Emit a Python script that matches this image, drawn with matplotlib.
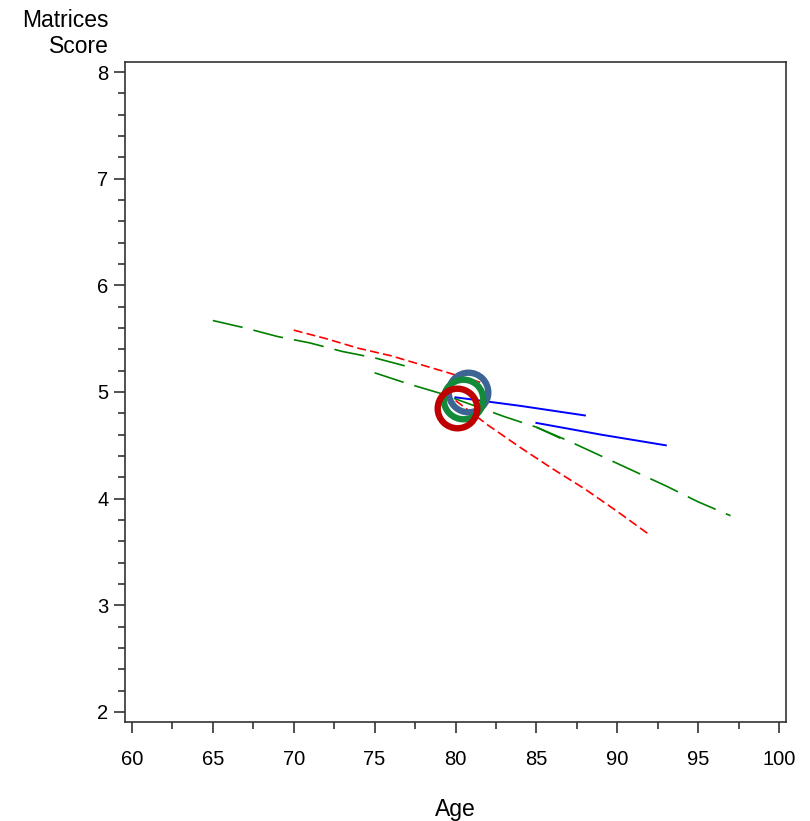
import numpy as np
import matplotlib.pyplot as plt

plt.rcParams['font.family'] = ['Liberation Sans', 'DejaVu Sans']
plt.rcParams['lines.scale_dashes'] = False

# Lignes (âge, score)
verde1_idade = [65, 67, 69, 71, 73, 75, 77]
verde1_score = [5.67, 5.60, 5.52, 5.46, 5.38, 5.32, 5.24]
verde2_idade = [75, 77, 79, 81, 83, 85, 87]
verde2_score = [5.18, 5.08, 4.99, 4.88, 4.77, 4.67, 4.53]
verde3_idade = [85, 87, 89, 91, 93, 95, 97]
verde3_score = [4.67, 4.54, 4.40, 4.26, 4.12, 3.97, 3.84]

verm1_idade = [70, 72, 74, 76, 78, 80, 82]
verm1_score = [5.58, 5.50, 5.41, 5.34, 5.25, 5.16, 5.07]
verm2_idade = [80, 82, 84, 86, 88, 90, 92]
verm2_score = [4.92, 4.69, 4.48, 4.28, 4.09, 3.88, 3.66]

azul1_idade = [80, 84, 88]
azul1_score = [4.95, 4.87, 4.78]
azul2_idade = [85, 89, 93]
azul2_score = [4.71, 4.60, 4.50]

# Círculos (médias)
circ_idade = [80.75, 80.45, 80.1]
circ_score = [5.00, 4.93, 4.85]
circ_cores = ['#3D6594', '#138A3A', '#BF0000']

fig = plt.figure(figsize=(8.10, 8.21), dpi=100)
ax = fig.add_axes([0.1543, 0.1206, 0.8161, 0.8039])

verde = (22, 8)
verm = (6.5, 3)
ax.plot(verde1_idade, verde1_score, color='#008000', lw=1.2, dashes=verde)
ax.plot(verde2_idade, verde2_score, color='#008000', lw=1.2, dashes=verde)
ax.plot(verde3_idade, verde3_score, color='#008000', lw=1.2, dashes=verde)
ax.plot(verm1_idade, verm1_score, color='#FF0000', lw=1.2, dashes=verm)
ax.plot(verm2_idade, verm2_score, color='#FF0000', lw=1.2, dashes=verm)
ax.plot(azul1_idade, azul1_score, color='#0000FF', lw=1.4)
ax.plot(azul2_idade, azul2_score, color='#0000FF', lw=1.4)

for xi, yi, c in zip(circ_idade, circ_score, circ_cores):
    ax.plot(xi, yi, 'o', ms=28.5, mfc='none', mec=c, mew=4.6)

ax.set_xlim(59.57, 100.43)
ax.set_ylim(1.906, 8.094)
ax.set_xticks(np.arange(60, 101, 5))
ax.set_xticks(np.arange(62.5, 100, 5), minor=True)
ax.set_yticks(np.arange(2, 9, 1))
ax.set_yticks(np.arange(2, 8.01, 0.2), minor=True)
ax.tick_params(which='major', length=8, width=1.2, labelsize=14.5, color='#333333')
ax.tick_params(which='minor', length=5, width=1.2, color='#333333')
ax.tick_params(axis='x', which='both', pad=12)
ax.tick_params(axis='y', which='both', pad=4)
for s in ax.spines.values():
    s.set_linewidth(1.2)
    s.set_color('#333333')

ax.set_xlabel('Age', fontsize=16.5, labelpad=21)
fig.text(0.134, 0.929, 'Matrices\nScore', ha='right', va='bottom', fontsize=16.5,
         multialignment='right', linespacing=1.2)

plt.savefig('out.png', dpi=100)
